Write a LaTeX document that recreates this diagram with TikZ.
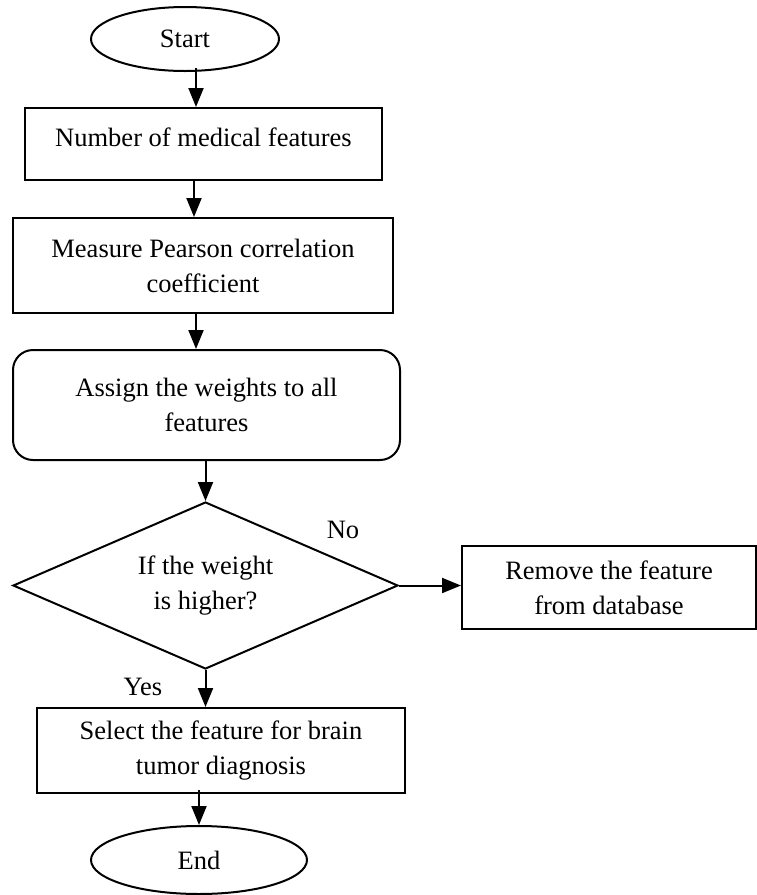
\documentclass[tikz,border=0pt]{standalone}
\usepackage{fontspec}
\setmainfont{Liberation Serif}
\usetikzlibrary{shapes.geometric,arrows.meta}
\begin{document}
\begin{tikzpicture}[x=1pt,y=-1pt,
  every node/.style={font=\fontsize{26.5}{35}\selectfont, align=center},
  base/.style={draw, line width=2pt, inner sep=0pt},
  boxnode/.style={base, rectangle},
  roundnode/.style={base, rectangle, rounded corners=20pt},
  termnode/.style={base, ellipse},
  decnode/.style={base, diamond, aspect=2.3},
  lbl/.style={inner sep=0pt},
  arr/.style={line width=2pt, -{Triangle[length=19pt,width=15pt]}}]
\useasboundingbox (0,0) rectangle (757,895);
\node[termnode, minimum width=188pt, minimum height=64pt] (start) at (185,39) {Start};
\node[boxnode, minimum width=357pt, minimum height=72pt, text depth=14pt] (feat) at (203.5,144) {Number of medical features};
\node[boxnode, minimum width=380pt, minimum height=95pt] (pear) at (203,265.5) {Measure Pearson correlation\\coefficient};
\node[roundnode, minimum width=387pt, minimum height=110pt] (weig) at (206.5,405) {Assign the weights to all\\features};
\node[decnode, minimum width=385pt, minimum height=167pt] (dec) at (205.5,585.5) {If the weight\\is higher?};
\node[boxnode, minimum width=294pt, minimum height=83pt] (remo) at (609,587.5) {Remove the feature\\from database};
\node[boxnode, minimum width=368pt, minimum height=85pt] (sele) at (221,750.5) {Select the feature for brain\\tumor diagnosis};
\node[termnode, minimum width=216pt, minimum height=68pt] (fin) at (199,860) {End};
\node[lbl] (no) at (343,530) {No};
\node[lbl] (yes) at (143,687) {Yes};
\draw[arr] ([yshift=4pt]start.south -| 196,0) -- (feat.north -| 196,0);
\draw[arr] ([yshift=2pt]feat.south -| 194,0) -- (pear.north -| 194,0);
\draw[arr] (pear.south -| 196,0) -- (weig.north -| 196,0);
\draw[arr] (weig.south -| dec.north) -- (dec.north);
\draw[arr] (dec.east) -- (remo.west |- dec.east);
\draw[arr] (dec.south) -- (sele.north -| dec.south);
\draw[arr] ([yshift=4pt]sele.south -| 199,0) -- (fin.north);
\end{tikzpicture}
\end{document}
